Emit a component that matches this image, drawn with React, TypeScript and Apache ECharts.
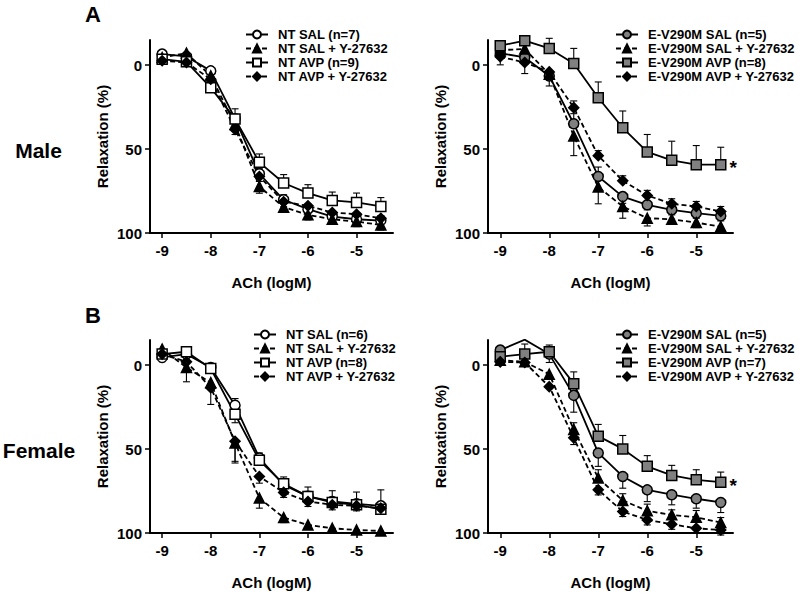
import React, { useEffect, useRef } from "react";
import * as echarts from "echarts";

// ACh doses (log M)
const DOSES = [-9, -8.5, -8, -7.5, -7, -6.5, -6, -5.5, -5, -4.5];
const X_TICKS = [-9, -8, -7, -6, -5];
const Y_TICKS = [0, 50, 100];

// Male, NT
const M_NT_SAL = [-6.6, -5.2, 3.4, 31.9, 64.7, 80.2, 85.8, 90.2, 91.8, 92.6];
const M_NT_SAL_Y = [-4.5, -7.2, 6.4, 35.3, 72.3, 84.6, 89.2, 91.8, 93.2, 95.2];
const M_NT_AVP = [-3.6, -2, 13.4, 32, 57.9, 70.2, 76.2, 80.6, 81.8, 84.2];
const M_NT_AVP_Y = [-2.6, -1.6, 8.4, 38.3, 66.3, 81.4, 83.8, 87.8, 88.8, 91.2];
const M_NT_SAL_ERR = [0, 0, 0, 0, -3, -3, -3, -3, -3, -3];
const M_NT_SAL_Y_ERR = [0, 0, 0, 4, 4, 3, 3, 3, 3, 3];
const M_NT_AVP_ERR = [0, 0, 0, -6, -5, -5, -5, -5, -5.6, -5.3];
const M_NT_AVP_Y_ERR = [0, 0, 3, 3, 3, 3, 3, 3, 3, 3];

// Male, E-V290M
const M_EV_SAL = [-7.2, -4.6, 6.4, 34.9, 66.3, 78.3, 83.2, 86.2, 88.2, 89.8];
const M_EV_SAL_Y = [-9, -9.6, 5.4, 42.2, 72.6, 84.2, 91.2, 91.8, 93.8, 96.2];
const M_EV_AVP = [-11.6, -14.6, -10, -1, 19.4, 37.3, 51.7, 56.7, 59.3, 59.3];
const M_EV_AVP_Y = [-5, -1.6, 4, 25.3, 53.9, 68.9, 77.6, 82.6, 84.2, 87.2];
const M_EV_SAL_ERR = [7, 9.6, 6, -6, -5.6, 4, 3, 3, 3, 3];
const M_EV_SAL_Y_ERR = [0, 0, 0, 11.7, 10, 7, 4.6, 3, 3, 3];
const M_EV_AVP_ERR = [0, -2, -6, -9, -9.4, -10, -10.4, -11.4, -11.4, -10.4];
const M_EV_AVP_Y_ERR = [0, 0, 0, -4, -3, -3, -3, -3, -3, -3];

// Female, NT
const F_NT_SAL = [-4.6, -6.6, 1.4, 23.9, 55.3, 71.3, 78.2, 81.2, 82.6, 83.8];
const F_NT_SAL_Y = [-9.6, 1.4, 10.4, 46.3, 79.2, 90.8, 95.2, 97.2, 98.2, 98.8];
const F_NT_AVP = [-6.6, -8, 2, 29.3, 56.7, 70.7, 78.2, 81.8, 83.2, 85.8];
const F_NT_AVP_Y = [-6.6, -2, 13.4, 45.3, 66.3, 75.8, 81.2, 83.2, 83.8, 85.2];
const F_NT_SAL_ERR = [0, 0, 0, -4, -3, -4.7, -5.6, -6.4, -7, -9.5];
const F_NT_SAL_Y_ERR = [0, 8.5, 0, 12, 6, 3, 2, 2, 2, 2];
const F_NT_AVP_ERR = [0, 0, 0, 5, -3, -3, -3, -3, -3, -3];
const F_NT_AVP_Y_ERR = [0, 0, 10, 12, 4, 3, 3, 3, 3, 3];

// Female, E-V290M
const F_EV_SAL = [-9, -15.2, -6.6, 18, 52.3, 66.3, 74.3, 77.2, 79.6, 81.8];
const F_EV_SAL_Y = [-3, -2, 5.4, 38.3, 67.3, 80.6, 86.8, 89.2, 90.6, 93.8];
const F_EV_AVP = [-5, -6.6, -8, 11, 42.3, 49.9, 60.3, 65.7, 68.3, 69.7];
const F_EV_AVP_Y = [-2, -1.6, 12.8, 43.3, 74.3, 87.2, 92.2, 94.8, 97.2, 98.2];
const F_EV_SAL_ERR = [0, 0, 5, 10, 8, 7, 7, 6, 5.6, 6];
const F_EV_SAL_Y_ERR = [0, 0, 0, -4, -5, -4, -4, -3, -4, -3];
const F_EV_AVP_ERR = [0, -6, -4, -7, -7, -8, -6.4, -6, -6, -6];
const F_EV_AVP_Y_ERR = [0, 0, 0, 4, 3, 3, 3, 3, 3, 3];

const FONT = "'Liberation Sans', Arial, Helvetica, sans-serif";
const GRAY = "#808080";

type Kind = "sal" | "salY" | "avp" | "avpY";

function styleFor(kind: Kind, ev: boolean) {
  if (kind === "sal") return { symbol: "circle", fill: ev ? GRAY : "#fff", dashed: false, size: 10 };
  if (kind === "avp") return { symbol: "rect", fill: ev ? GRAY : "#fff", dashed: false, size: 10 };
  if (kind === "salY") return { symbol: "triangle", fill: "#000", dashed: true, size: 10 };
  return { symbol: "diamond", fill: "#000", dashed: true, size: 10 };
}

function lineSeries(name: string, values: number[], kind: Kind, ev: boolean, g: number, star = false) {
  const st = styleFor(kind, ev);
  return {
    type: "line",
    name,
    xAxisIndex: g,
    yAxisIndex: g,
    symbol: st.symbol,
    symbolSize: st.size,
    z: 3,
    data: DOSES.map((x, i) => {
      if (star && i === DOSES.length - 1) {
        return {
          value: [x, values[i]],
          label: {
            show: true,
            formatter: "*",
            position: "right",
            distance: 3,
            offset: [0, 3],
            fontSize: 19,
            fontWeight: "bold",
            fontFamily: FONT,
            color: "#000",
          },
        };
      }
      return [x, values[i]];
    }),
    itemStyle: { color: st.fill, borderColor: "#000", borderWidth: 1.5 },
    lineStyle: { color: "#000", width: 1.8, type: st.dashed ? [5, 3] : "solid" },
    emphasis: { disabled: true },
  };
}

function errSeries(values: number[], errs: number[], g: number) {
  return {
    type: "custom",
    xAxisIndex: g,
    yAxisIndex: g,
    z: 2,
    silent: true,
    data: DOSES.map((x, i) => [x, values[i], errs[i]]),
    encode: { x: 0, y: 1 },
    renderItem: (params: any, api: any) => {
      const x = api.value(0);
      const y = api.value(1);
      const e = api.value(2);
      if (!e) return null;
      const p0 = api.coord([x, y]);
      const p1 = api.coord([x, y + e]);
      const cap = 3.5;
      const s = { stroke: "#000", lineWidth: 1.1 };
      return {
        type: "group",
        children: [
          { type: "line", shape: { x1: p0[0], y1: p0[1], x2: p1[0], y2: p1[1] }, style: s },
          { type: "line", shape: { x1: p1[0] - cap, y1: p1[1], x2: p1[0] + cap, y2: p1[1] }, style: s },
        ],
      };
    },
  };
}

const GRIDS = [
  { left: 150, top: 40, width: 243, height: 193 },
  { left: 488, top: 40, width: 245, height: 193 },
  { left: 150, top: 340, width: 243, height: 193 },
  { left: 488, top: 340, width: 245, height: 193 },
];

function xAxis(g: number) {
  return {
    type: "value",
    gridIndex: g,
    min: -9.25,
    max: -4.25,
    name: "ACh (logM)",
    nameLocation: "middle",
    nameGap: 42,
    nameTextStyle: { fontFamily: FONT, fontWeight: "bold", fontSize: 15, color: "#000" },
    axisLine: { show: true, onZero: false, lineStyle: { color: "#000", width: 2 } },
    axisTick: { show: true, length: 5, customValues: X_TICKS, lineStyle: { color: "#000", width: 1.5 } },
    axisLabel: {
      customValues: X_TICKS,
      margin: 10,
      fontFamily: FONT,
      fontWeight: "bold",
      fontSize: 15,
      color: "#000",
      formatter: (v: number) => String(v),
    },
    splitLine: { show: false },
  };
}

function yAxis(g: number) {
  return {
    type: "value",
    gridIndex: g,
    inverse: true,
    min: -15,
    max: 100,
    name: "Relaxation (%)",
    nameLocation: "middle",
    nameGap: 40,
    nameTextStyle: { fontFamily: FONT, fontWeight: "bold", fontSize: 15, color: "#000" },
    axisLine: { show: true, onZero: false, lineStyle: { color: "#000", width: 2 } },
    axisTick: { show: true, length: 5, customValues: Y_TICKS, lineStyle: { color: "#000", width: 1.5 } },
    axisLabel: {
      customValues: Y_TICKS,
      margin: 8,
      fontFamily: FONT,
      fontWeight: "bold",
      fontSize: 15,
      color: "#000",
    },
    splitLine: { show: false },
  };
}

function legend(names: string[], left: number, top: number) {
  return {
    orient: "vertical",
    left,
    top,
    itemWidth: 22,
    itemHeight: 10,
    itemGap: 1,
    selectedMode: false,
    data: names,
    textStyle: { fontFamily: FONT, fontWeight: "bold", fontSize: 13, color: "#000", padding: [0, 0, 0, 5] },
  };
}

export default function App() {
  const ref = useRef<HTMLDivElement>(null);
  useEffect(() => {
    if (!ref.current) return;
    const chart = echarts.init(ref.current, null, { renderer: "svg" });

    const P = [
      { g: 0, ev: false, names: ["NT SAL (n=7)", "NT SAL + Y-27632", "NT AVP (n=9)", "NT AVP + Y-27632"],
        vals: [M_NT_SAL, M_NT_SAL_Y, M_NT_AVP, M_NT_AVP_Y], errs: [M_NT_SAL_ERR, M_NT_SAL_Y_ERR, M_NT_AVP_ERR, M_NT_AVP_Y_ERR], star: false },
      { g: 1, ev: true, names: ["E-V290M SAL (n=5)", "E-V290M SAL + Y-27632", "E-V290M AVP (n=8)", "E-V290M AVP + Y-27632"],
        vals: [M_EV_SAL, M_EV_SAL_Y, M_EV_AVP, M_EV_AVP_Y], errs: [M_EV_SAL_ERR, M_EV_SAL_Y_ERR, M_EV_AVP_ERR, M_EV_AVP_Y_ERR], star: true },
      { g: 2, ev: false, names: ["NT SAL (n=6)", "NT SAL + Y-27632 ", "NT AVP (n=8)", "NT AVP + Y-27632 "],
        vals: [F_NT_SAL, F_NT_SAL_Y, F_NT_AVP, F_NT_AVP_Y], errs: [F_NT_SAL_ERR, F_NT_SAL_Y_ERR, F_NT_AVP_ERR, F_NT_AVP_Y_ERR], star: false },
      { g: 3, ev: true, names: ["E-V290M SAL (n=5) ", "E-V290M SAL + Y-27632 ", "E-V290M AVP (n=7)", "E-V290M AVP + Y-27632 "],
        vals: [F_EV_SAL, F_EV_SAL_Y, F_EV_AVP, F_EV_AVP_Y], errs: [F_EV_SAL_ERR, F_EV_SAL_Y_ERR, F_EV_AVP_ERR, F_EV_AVP_Y_ERR], star: true },
    ];
    const kinds: Kind[] = ["sal", "salY", "avp", "avpY"];
    const series: any[] = [];
    P.forEach((p) => {
      kinds.forEach((k, i) => {
        series.push(errSeries(p.vals[i], p.errs[i], p.g));
      });
      kinds.forEach((k, i) => {
        series.push(lineSeries(p.names[i], p.vals[i], k, p.ev, p.g, p.star && k === "avp"));
      });
    });

    const legendPos = [
      [240, 23],
      [610, 23],
      [248, 323],
      [610, 323],
    ];

    chart.setOption({
      animation: false,
      backgroundColor: "#fff",
      grid: GRIDS,
      xAxis: GRIDS.map((_, i) => xAxis(i)),
      yAxis: GRIDS.map((_, i) => yAxis(i)),
      legend: P.map((p, i) => legend(p.names, legendPos[i][0], legendPos[i][1])),
      series,
      graphic: [
        { type: "text", x: 93, y: 14, style: { text: "A", fontFamily: FONT, fontWeight: "bold", fontSize: 22, fill: "#000", align: "center", verticalAlign: "middle" } },
        { type: "text", x: 93, y: 315, style: { text: "B", fontFamily: FONT, fontWeight: "bold", fontSize: 22, fill: "#000", align: "center", verticalAlign: "middle" } },
        { type: "text", x: 38.5, y: 150, style: { text: "Male", fontFamily: FONT, fontWeight: "bold", fontSize: 21, fill: "#000", align: "center", verticalAlign: "middle" } },
        { type: "text", x: 39, y: 450, style: { text: "Female", fontFamily: FONT, fontWeight: "bold", fontSize: 21, fill: "#000", align: "center", verticalAlign: "middle" } },
      ],
    });
    return () => chart.dispose();
  }, []);
  return (
    <div
      ref={ref}
      style={{ position: "fixed", left: 0, top: 0, width: 800, height: 595, background: "#fff" }}
    />
  );
}
